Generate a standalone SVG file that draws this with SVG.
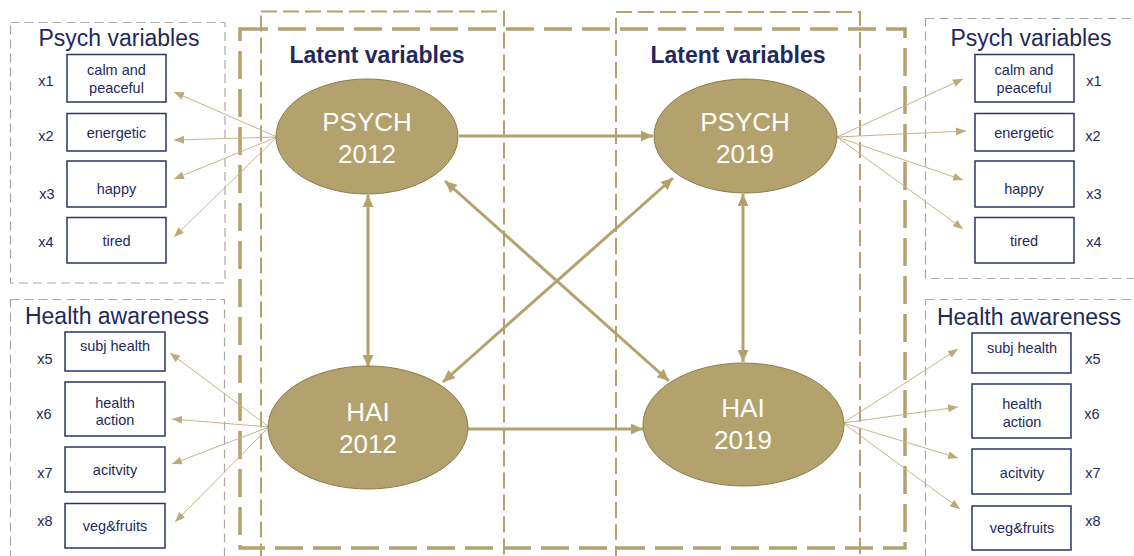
<svg xmlns="http://www.w3.org/2000/svg" width="1134" height="556" viewBox="0 0 1134 556">
<style>
.bg{fill:#fff}
.grp{fill:none;stroke:#A9A9A9;stroke-width:1.2;stroke-dasharray:9 5}
.thick{fill:none;stroke:#B3A26E;stroke-width:3.5;stroke-dasharray:28 10}
.thin{fill:none;stroke:#B3A26E;stroke-width:2;stroke-dasharray:16 6}
.ell{fill:#B3A26E;stroke:#8C7B4B;stroke-width:1}
.etxt{font-family:"Liberation Sans",Arial,sans-serif;font-size:26px;fill:#fff;text-anchor:middle}
.title{font-family:"Liberation Sans",Arial,sans-serif;font-size:23px;fill:#1F2A5C;text-anchor:middle}
.lat{font-family:"Liberation Sans",Arial,sans-serif;font-size:23px;font-weight:bold;fill:#1F2A5C;text-anchor:middle}
.box{fill:#fff;stroke:#2B3566;stroke-width:1.5}
.btxt{font-family:"Liberation Sans",Arial,sans-serif;font-size:14.5px;fill:#1F2A5C;text-anchor:middle}
.main{fill:none;stroke:#B3A26E;stroke-width:3}
.load{fill:none;stroke:#C4B58A;stroke-width:1}
</style>
<defs>
<marker id="ah" markerUnits="userSpaceOnUse" markerWidth="13" markerHeight="11" refX="12" refY="5.5" orient="auto-start-reverse">
<path d="M0,0 L12,5.5 L0,11 z" fill="#B3A26E"/>
</marker>
<marker id="al" markerUnits="userSpaceOnUse" markerWidth="11" markerHeight="9" refX="10" refY="4" orient="auto">
<path d="M0,0 L10,4 L0,8 z" fill="#BBAB7A"/>
</marker>
</defs>
<rect class="bg" x="0" y="0" width="1134" height="556"/>

<g id="frames">
<rect class="grp" x="10.5" y="22.5" width="214.5" height="260.5"/>
<rect class="grp" x="10.5" y="299.5" width="214" height="280"/>
<rect class="grp" x="925.5" y="18.5" width="220" height="260"/>
<rect class="grp" x="925.5" y="299.5" width="220" height="280"/>
<rect class="thick" x="240" y="29" width="665" height="519"/>
<rect class="thin" x="261" y="11.5" width="243" height="570"/>
<rect class="thin" x="616" y="12" width="244" height="570"/>
</g>

<g id="titles">
<text class="title" x="119" y="46">Psych variables</text>
<text class="title" x="117" y="324">Health awareness</text>
<text class="title" x="1031" y="46">Psych variables</text>
<text class="title" x="1029" y="325">Health awareness</text>
<text class="lat" x="377" y="63">Latent variables</text>
<text class="lat" x="738" y="63">Latent variables</text>
</g>

<g id="connectors">
<line class="main" x1="459" y1="136" x2="653" y2="136" marker-end="url(#ah)"/>
<line class="main" x1="468" y1="429" x2="643" y2="429" marker-end="url(#ah)"/>
<line class="main" x1="368" y1="195" x2="368" y2="367" marker-start="url(#ah)" marker-end="url(#ah)"/>
<line class="main" x1="743" y1="194" x2="743" y2="362" marker-start="url(#ah)" marker-end="url(#ah)"/>
<line class="main" x1="445" y1="181" x2="669" y2="381" marker-start="url(#ah)" marker-end="url(#ah)"/>
<line class="main" x1="443" y1="382" x2="673" y2="178" marker-start="url(#ah)" marker-end="url(#ah)"/>

<line class="load" x1="277" y1="137" x2="174" y2="92" marker-end="url(#al)"/>
<line class="load" x1="277" y1="137" x2="174" y2="140" marker-end="url(#al)"/>
<line class="load" x1="277" y1="137" x2="174" y2="179" marker-end="url(#al)"/>
<line class="load" x1="277" y1="137" x2="174" y2="237" marker-end="url(#al)"/>

<line class="load" x1="269" y1="427" x2="170" y2="353" marker-end="url(#al)"/>
<line class="load" x1="269" y1="427" x2="172" y2="419" marker-end="url(#al)"/>
<line class="load" x1="269" y1="427" x2="172" y2="464" marker-end="url(#al)"/>
<line class="load" x1="269" y1="427" x2="175" y2="522" marker-end="url(#al)"/>

<line class="load" x1="837" y1="137" x2="963" y2="79" marker-end="url(#al)"/>
<line class="load" x1="837" y1="137" x2="966" y2="131" marker-end="url(#al)"/>
<line class="load" x1="837" y1="137" x2="963" y2="180" marker-end="url(#al)"/>
<line class="load" x1="837" y1="137" x2="963" y2="229" marker-end="url(#al)"/>

<line class="load" x1="843" y1="423" x2="958" y2="349" marker-end="url(#al)"/>
<line class="load" x1="843" y1="423" x2="958" y2="407" marker-end="url(#al)"/>
<line class="load" x1="843" y1="423" x2="958" y2="458" marker-end="url(#al)"/>
<line class="load" x1="843" y1="423" x2="960" y2="509" marker-end="url(#al)"/>
</g>

<g id="psych2012">
<ellipse class="ell" cx="367" cy="136.5" rx="91" ry="57.5"/>
<text class="etxt" x="367" y="131">PSYCH</text>
<text class="etxt" x="367" y="163">2012</text>
</g>
<g id="psych2019">
<ellipse class="ell" cx="745.5" cy="136" rx="91.5" ry="57"/>
<text class="etxt" x="745" y="131">PSYCH</text>
<text class="etxt" x="745" y="163">2019</text>
</g>
<g id="hai2012">
<ellipse class="ell" cx="368" cy="427.5" rx="100" ry="61.5"/>
<text class="etxt" x="368" y="421">HAI</text>
<text class="etxt" x="368" y="453">2012</text>
</g>
<g id="hai2019">
<ellipse class="ell" cx="743.5" cy="424.5" rx="100.5" ry="61.5"/>
<text class="etxt" x="743" y="417">HAI</text>
<text class="etxt" x="743" y="449">2019</text>
</g>

<g id="left-psych">
<rect class="box" x="67" y="54.5" width="99" height="47.5"/>
<text class="btxt" x="116.5" y="75">calm and</text>
<text class="btxt" x="116.5" y="93">peaceful</text>
<text class="btxt" x="46" y="86">x1</text>
<rect class="box" x="67" y="113.5" width="99" height="37.5"/>
<text class="btxt" x="116.5" y="138">energetic</text>
<text class="btxt" x="46" y="141">x2</text>
<rect class="box" x="67" y="161" width="99" height="46"/>
<text class="btxt" x="116.5" y="194">happy</text>
<text class="btxt" x="47" y="199">x3</text>
<rect class="box" x="67" y="217.5" width="99" height="45.5"/>
<text class="btxt" x="116.5" y="246">tired</text>
<text class="btxt" x="46" y="247">x4</text>
</g>

<g id="left-health">
<rect class="box" x="65" y="332" width="100" height="39"/>
<text class="btxt" x="115" y="351">subj health</text>
<text class="btxt" x="45" y="364">x5</text>
<rect class="box" x="65" y="382" width="100" height="54"/>
<text class="btxt" x="115" y="408">health</text>
<text class="btxt" x="115" y="425">action</text>
<text class="btxt" x="44" y="419">x6</text>
<rect class="box" x="65" y="447" width="100" height="45"/>
<text class="btxt" x="115" y="475">acitvity</text>
<text class="btxt" x="45" y="478">x7</text>
<rect class="box" x="65" y="503.5" width="100" height="44.5"/>
<text class="btxt" x="115" y="531">veg&amp;fruits</text>
<text class="btxt" x="45" y="526">x8</text>
</g>

<g id="right-psych">
<rect class="box" x="975" y="54.5" width="99" height="47.5"/>
<text class="btxt" x="1024" y="75">calm and</text>
<text class="btxt" x="1024" y="93">peaceful</text>
<text class="btxt" x="1094" y="86">x1</text>
<rect class="box" x="975" y="113.5" width="99" height="37.5"/>
<text class="btxt" x="1024" y="138">energetic</text>
<text class="btxt" x="1093" y="141">x2</text>
<rect class="box" x="975" y="161" width="99" height="46"/>
<text class="btxt" x="1024" y="194">happy</text>
<text class="btxt" x="1094" y="199">x3</text>
<rect class="box" x="975" y="217.5" width="99" height="45.5"/>
<text class="btxt" x="1024" y="246">tired</text>
<text class="btxt" x="1094" y="247">x4</text>
</g>

<g id="right-health">
<rect class="box" x="972" y="333" width="99" height="40"/>
<text class="btxt" x="1022" y="353">subj health</text>
<text class="btxt" x="1093" y="364">x5</text>
<rect class="box" x="972" y="384" width="99" height="54"/>
<text class="btxt" x="1022" y="409">health</text>
<text class="btxt" x="1022" y="427">action</text>
<text class="btxt" x="1092" y="419">x6</text>
<rect class="box" x="972" y="449" width="99" height="45"/>
<text class="btxt" x="1022" y="478">acitvity</text>
<text class="btxt" x="1093" y="478">x7</text>
<rect class="box" x="972" y="506" width="99" height="44"/>
<text class="btxt" x="1022" y="533">veg&amp;fruits</text>
<text class="btxt" x="1093" y="526">x8</text>
</g>
</svg>
